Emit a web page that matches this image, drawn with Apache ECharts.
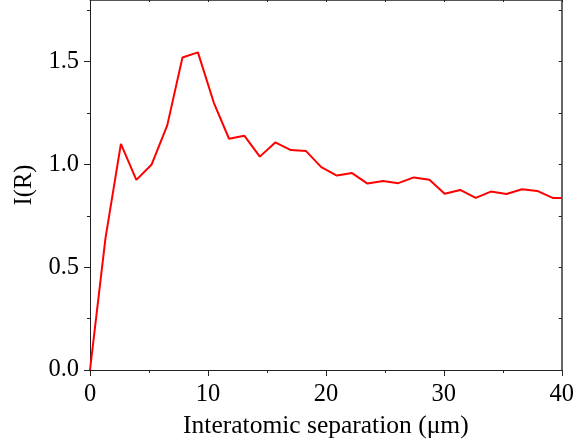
<!DOCTYPE html>
<html>
<head>
<meta charset="utf-8">
<script src="https://cdn.jsdelivr.net/npm/echarts@6/dist/echarts.min.js"></script>
<style>html,body{margin:0;padding:0;background:#fff}#c{width:577px;height:444px}</style>
</head>
<body>
<div id="c"></div>
<script>
const separation = [0, 1.31, 2.62, 3.93, 5.23, 6.55, 7.84, 9.15, 10.5, 11.79, 13.08, 14.4, 15.71, 17.03, 18.32, 19.61, 20.93, 22.22, 23.53, 24.85, 26.14, 27.46, 28.78, 30.07, 31.39, 32.7, 33.99, 35.31, 36.63, 37.92, 39.23, 40];
const intensity = [0, 0.64, 1.10, 0.925, 1.00, 1.19, 1.52, 1.545, 1.30, 1.125, 1.14, 1.038, 1.107, 1.07, 1.065, 0.987, 0.946, 0.958, 0.907, 0.919, 0.909, 0.937, 0.926, 0.857, 0.876, 0.837, 0.868, 0.856, 0.879, 0.871, 0.837, 0.837];
const yMajor = [0, 0.5, 1.0, 1.5];
const yMinor = [0.25, 0.75, 1.25, 1.75];
const yAll = [0, 0.25, 0.5, 0.75, 1.0, 1.25, 1.5, 1.75];
const xMajor = [0, 10, 20, 30, 40];
const xMinor = [5, 15, 25, 35];
const xAll = [0, 5, 10, 15, 20, 25, 30, 35, 40];

const font = 'Liberation Serif';
const axisColor = '#222';
const chart = echarts.init(document.getElementById('c'));
const hidden = {show: false};
chart.setOption({
  animation: false,
  grid: {left: 90, right: 12, top: 0, bottom: 71, containLabel: false},
  xAxis: [
    {type: 'value', position: 'bottom', min: 0, max: 40,
     name: 'Interatomic separation (\u03bcm)', nameLocation: 'middle', nameGap: 43,
     nameTextStyle: {fontFamily: font, fontSize: 25.5, color: '#000'},
     axisLine: {show: true, onZero: false, lineStyle: {color: axisColor, width: 1}},
     axisTick: {show: true, inside: false, length: 6, customValues: xMajor, lineStyle: {color: axisColor}},
     axisLabel: {customValues: xMajor, fontFamily: font, fontSize: 24.5, color: '#000', margin: 12},
     splitLine: hidden},
    {type: 'value', position: 'bottom', min: 0, max: 40,
     axisLine: {show: false, onZero: false},
     axisTick: {show: true, inside: false, length: 3, customValues: xMinor, lineStyle: {color: axisColor}},
     axisLabel: hidden, splitLine: hidden},
    {type: 'value', position: 'top', min: 0, max: 40,
     axisLine: {show: true, onZero: false, lineStyle: {color: '#555', width: 1}},
     axisTick: {show: true, inside: true, length: 2, customValues: xAll, lineStyle: {color: axisColor}},
     axisLabel: hidden, splitLine: hidden}
  ],
  yAxis: [
    {type: 'value', position: 'left', min: 0, max: 1.8,
     name: 'I(R)', nameLocation: 'middle', nameGap: 53, nameRotate: 90,
     nameTextStyle: {fontFamily: font, fontSize: 24.5, color: '#000'},
     axisLine: {show: true, onZero: false, lineStyle: {color: axisColor, width: 1}},
     axisTick: {show: true, inside: false, length: 6, customValues: yMajor, lineStyle: {color: axisColor}},
     axisLabel: {customValues: yMajor, fontFamily: font, fontSize: 24.5, color: '#000', margin: 11,
                 formatter: v => v.toFixed(1)},
     splitLine: hidden},
    {type: 'value', position: 'left', min: 0, max: 1.8,
     axisLine: {show: false, onZero: false},
     axisTick: {show: true, inside: false, length: 3, customValues: yMinor, lineStyle: {color: axisColor}},
     axisLabel: hidden, splitLine: hidden},
    {type: 'value', position: 'right', min: 0, max: 1.8,
     axisLine: {show: true, onZero: false, lineStyle: {color: '#333', width: 1.5}},
     axisTick: {show: true, inside: true, length: 3, customValues: yAll, lineStyle: {color: axisColor}},
     axisLabel: hidden, splitLine: hidden}
  ],
  series: [{
    type: 'line', xAxisIndex: 0, yAxisIndex: 0,
    data: separation.map((x, i) => [x, intensity[i]]),
    showSymbol: false, symbol: 'none',
    lineStyle: {color: '#ff0000', width: 2},
    clip: true
  }]
});
</script>
</body>
</html>
